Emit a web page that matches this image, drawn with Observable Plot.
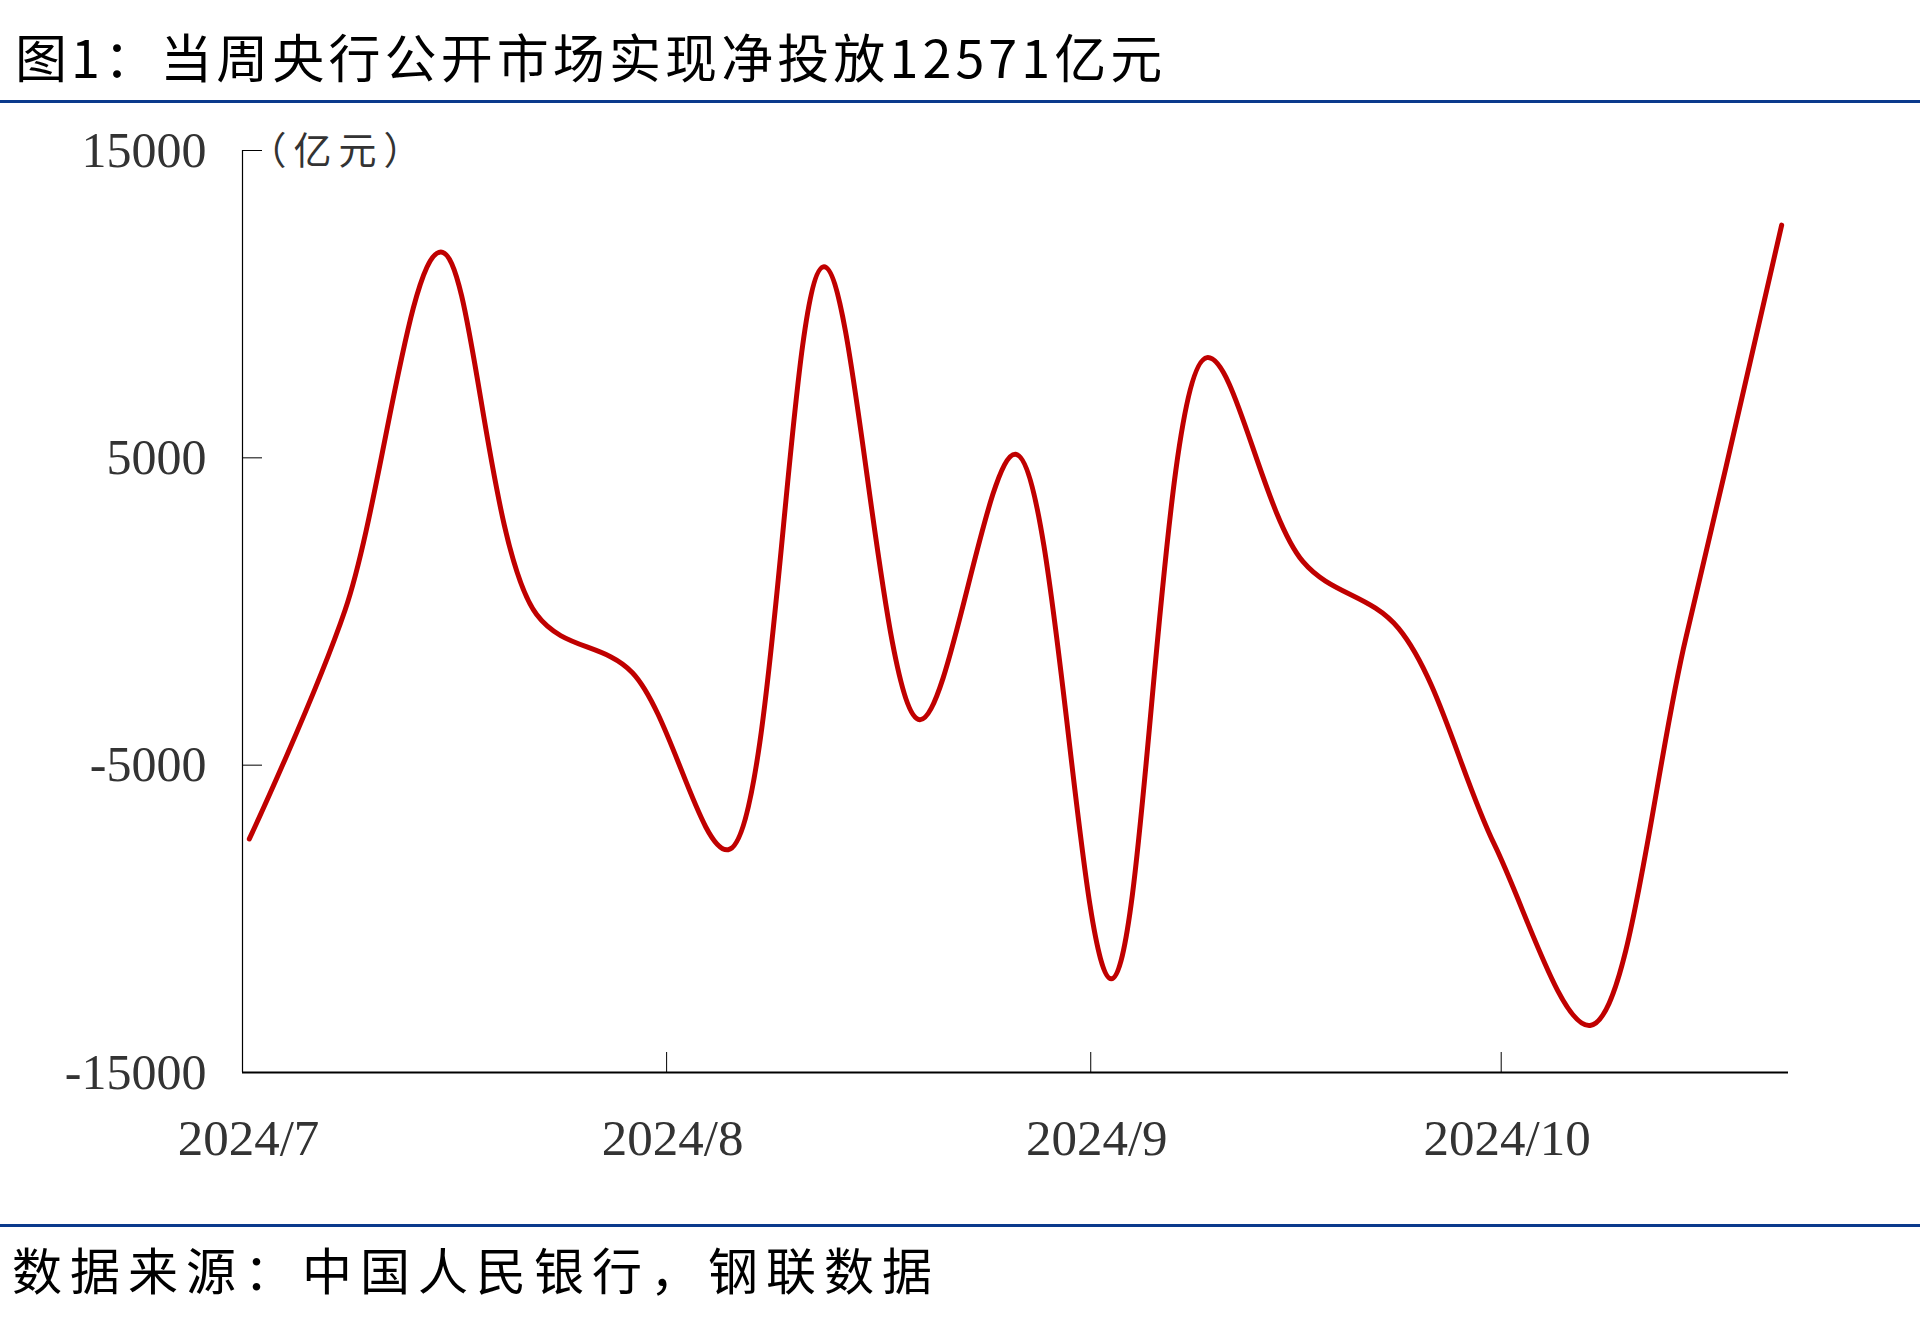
<!DOCTYPE html>
<html>
<head>
<meta charset="utf-8">
<script src="https://cdn.jsdelivr.net/npm/d3@7"></script>
<script src="https://cdn.jsdelivr.net/npm/@observablehq/plot@0.6"></script>
<style>
  html, body { margin: 0; padding: 0; background: #fff; }
  #wrap { position: relative; width: 1920px; height: 1331px; background: #fff; overflow: hidden; }
  #title { position: absolute; left: 15px; top: 30px; font-family: "Noto Sans CJK SC"; font-size: 52px; line-height: 52px; letter-spacing: 4.1px; color: #000; white-space: nowrap; }
  .bar { position: absolute; left: 0; width: 1920px; height: 3px; background: #0B3A8C; }
  #chart { position: absolute; left: 0; top: 104px; }
  #source { position: absolute; left: 12px; top: 1243px; font-family: "Noto Sans CJK SC"; font-size: 50px; line-height: 50px; letter-spacing: 8px; color: #000; white-space: nowrap; }
</style>
</head>
<body>
<div id="wrap">
  <div id="title"></div>
  <div class="bar" style="top:100px"></div>
  <div id="chart"></div>
  <div class="bar" style="top:1224px"></div>
  <div id="source"></div>
</div>
<script>
// ---- data ----
const titleText = "图1：当周央行公开市场实现净投放12571亿元";
const sourceText = "数据来源：中国人民银行，钢联数据";
const unitLabel = "（亿元）";
const weeks = ["2024-07-01","2024-07-08","2024-07-15","2024-07-22","2024-07-29","2024-08-05","2024-08-12","2024-08-19","2024-08-26","2024-09-02","2024-09-09","2024-09-16","2024-09-23","2024-09-30","2024-10-07","2024-10-14","2024-10-21"];
const netInjection = [-7400, 50, 11700, -100, -1990, -7750, 11220, -3520, 5120, -11950, 8260, 1630, -550, -7580, -13470, -860, 12571];
const yTicks = [-15000, -5000, 5000, 15000];
const monthTicks = ["2024-07-01","2024-08-01","2024-09-01","2024-10-01"];
const monthLabels = ["2024/7","2024/8","2024/9","2024/10"];
const axisStart = "2024-07-01";
const axisEnd = "2024-10-22";

document.getElementById("title").textContent = titleText;
document.getElementById("source").textContent = sourceText;

const data = weeks.map((w, i) => ({date: new Date(w + "T12:00:00Z"), value: netInjection[i]}));
const xStart = new Date(axisStart + "T00:00:00Z");
const xEnd = new Date(axisEnd + "T00:00:00Z");
const monthDates = monthTicks.map(d => new Date(d + "T00:00:00Z"));
const labelOf = new Map(monthDates.map((d, i) => [+d, monthLabels[i]]));
const serif = "'Liberation Serif', 'Times New Roman', serif";

const chart = Plot.plot({
  width: 1920,
  height: 1120,
  marginTop: 46,
  marginBottom: 152,
  marginLeft: 242,
  marginRight: 132,
  style: {background: "#fff", overflow: "visible"},
  x: {type: "utc", domain: [xStart, xEnd]},
  y: {domain: [-15000, 15000]},
  marks: [
    Plot.axisY(yTicks, {tickSize: 0, tickPadding: 36, tickFormat: d => String(d), fontSize: 50, fontFamily: serif, fill: "#333", label: null}),
    Plot.axisX(monthDates, {tickSize: 0, tickPadding: 46, tickFormat: d => labelOf.get(+d), fontSize: 51, fontFamily: serif, fill: "#333", dx: 6, label: null}),
    Plot.ruleY(yTicks, {y: d => d, x1: () => xStart, x2: () => xStart, insetRight: -20, stroke: "#000", strokeWidth: 1}),
    Plot.ruleX(monthDates, {x: d => d, y1: () => -15000, y2: () => -15000, insetTop: -20, stroke: "#000", strokeWidth: 1}),
    Plot.ruleX([xStart], {stroke: "#000", strokeWidth: 1.2}),
    Plot.ruleY([-15000], {stroke: "#000", strokeWidth: 2.2}),
    Plot.text([unitLabel], {frameAnchor: "top-left", dx: 6, dy: 1, textAnchor: "start", lineAnchor: "middle", fontSize: 38, fontFamily: "'Noto Sans CJK SC'", fill: "#333"}),
    Plot.line(data, {x: "date", y: "value", curve: "catmull-rom", stroke: "#C00000", strokeWidth: 5, strokeLinecap: "round", strokeLinejoin: "round"})
  ]
});
chart.querySelectorAll("text").forEach(t => { if (t.textContent === unitLabel) t.setAttribute("letter-spacing", "7"); });
document.getElementById("chart").appendChild(chart);
</script>
</body>
</html>
